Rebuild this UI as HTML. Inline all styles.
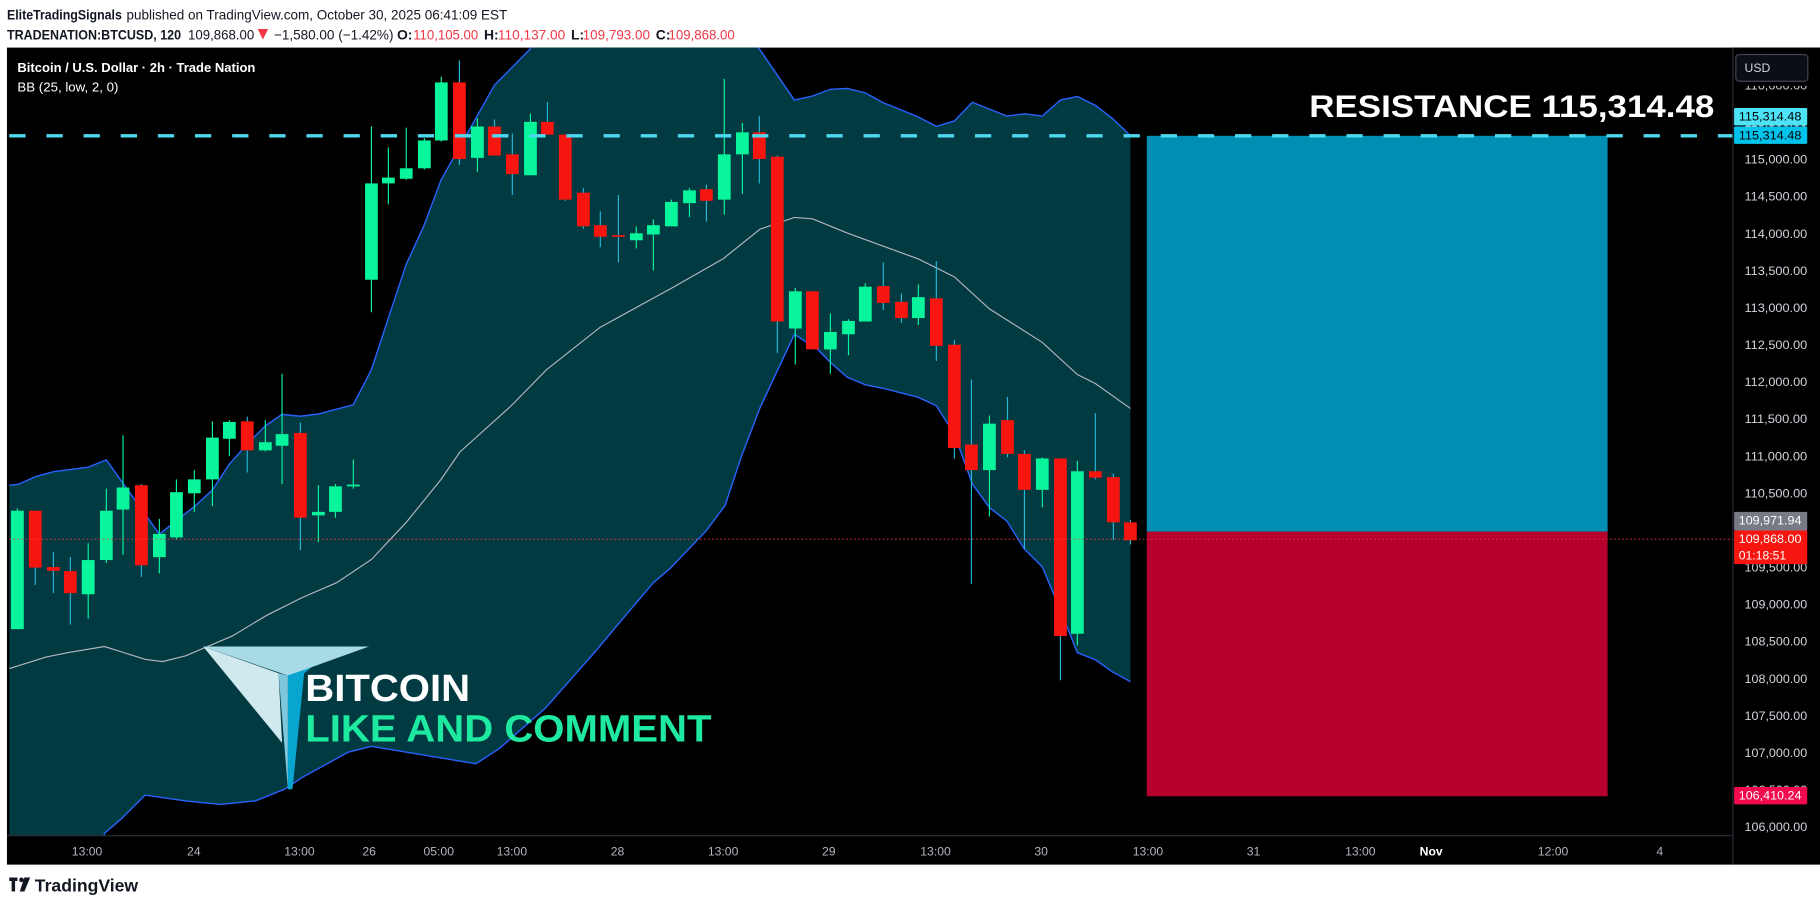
<!DOCTYPE html>
<html><head><meta charset="utf-8">
<style>
html,body{margin:0;padding:0;background:#fff;}
svg{display:block;}
text{font-family:"Liberation Sans",sans-serif;}
</style></head>
<body>
<svg id="s" width="1820" height="907" viewBox="0 0 1568 781.4" preserveAspectRatio="none" xmlns="http://www.w3.org/2000/svg">
<rect x="0" y="0" width="1568" height="781.4" fill="#fff"/>
<text x="6" y="17" font-size="12" font-weight="bold" fill="#131722" textLength="99" lengthAdjust="spacingAndGlyphs">EliteTradingSignals</text>
<text x="109" y="17" font-size="12" fill="#131722" textLength="328" lengthAdjust="spacingAndGlyphs">published on TradingView.com, October 30, 2025 06:41:09 EST</text>
<text x="6" y="34" font-size="12" font-weight="bold" fill="#131722" textLength="150" lengthAdjust="spacingAndGlyphs">TRADENATION:BTCUSD, 120</text>
<text x="162" y="34" font-size="12" fill="#131722" textLength="57" lengthAdjust="spacingAndGlyphs">109,868.00</text>
<polygon points="222,25 231,25 226.5,34" fill="#f23645"/>
<text x="236" y="34" font-size="12" fill="#131722" textLength="103" lengthAdjust="spacingAndGlyphs">−1,580.00 (−1.42%)</text>
<text x="342" y="34" font-size="12" font-weight="bold" fill="#131722">O:</text>
<text x="356" y="34" font-size="12" fill="#f23645" textLength="56" lengthAdjust="spacingAndGlyphs">110,105.00</text>
<text x="417" y="34" font-size="12" font-weight="bold" fill="#131722">H:</text>
<text x="429" y="34" font-size="12" fill="#f23645" textLength="58" lengthAdjust="spacingAndGlyphs">110,137.00</text>
<text x="492" y="34" font-size="12" font-weight="bold" fill="#131722">L:</text>
<text x="502" y="34" font-size="12" fill="#f23645" textLength="58" lengthAdjust="spacingAndGlyphs">109,793.00</text>
<text x="565" y="34" font-size="12" font-weight="bold" fill="#131722">C:</text>
<text x="576" y="34" font-size="12" fill="#f23645" textLength="57" lengthAdjust="spacingAndGlyphs">109,868.00</text>

<rect x="6" y="41" width="1562" height="704" fill="#000"/>
<defs><clipPath id="cp"><rect x="6" y="41" width="1487" height="679"/></clipPath></defs>
<g clip-path="url(#cp)" id="plot"></g>
<line x1="1493" y1="41" x2="1493" y2="745" stroke="#2a2e39" stroke-width="1"/>
<line x1="6" y1="720" x2="1493" y2="720" stroke="#2a2e39" stroke-width="1"/>
<g id="axis"></g>
<g id="time"></g>

<rect x="0" y="745" width="1568" height="37" fill="#fff"/>
<g transform="translate(8,756)">
<rect x="0" y="0" width="7" height="3" fill="#131722"/>
<rect x="2" y="0" width="3" height="12" fill="#131722"/>
<circle cx="10.5" cy="2" r="2" fill="#131722"/>
<polygon points="13,0 18,0 13,12 9,12" fill="#131722"/>
</g>
<text x="30" y="768" font-size="15" font-weight="bold" fill="#131722" textLength="89" lengthAdjust="spacingAndGlyphs">TradingView</text>
</svg>
<script>
const NS="http://www.w3.org/2000/svg";
function el(p,t,a,txt){const e=document.createElementNS(NS,t);for(const k in a)e.setAttribute(k,a[k]);if(txt!==undefined)e.textContent=txt;p.appendChild(e);return e;}
const plot=document.getElementById('plot');
const up=[[8,418],[15.8,417.3],[30.4,410.7],[46,406.4],[76,402.5],[91.6,396.2],[137.3,460.2],[152,448.6],[167.4,436.4],[183,422.2],[197.6,399.8],[213,382.7],[228.6,366.8],[243,357],[258.8,358.6],[274.3,356.6],[304.4,348.7],[320,318.4],[334.6,273.9],[350,227.7],[365,195],[380,155],[426,73.4],[456,43],[470,25],[640,25],[654.8,43],[684.4,86.2],[700,82.7],[715.4,76.9],[730,76.2],[745.5,80],[761,88.5],[791.2,100.8],[806.7,108.9],[822.2,104.2],[837.7,88.1],[867.3,100],[882.6,98.1],[898,100],[913.6,86.2],[928.2,83.1],[943.7,90.8],[958.4,102],[973.9,116.9]];
const lo=[[8,730],[88,730],[90,718],[105,705],[125,685],[160,690],[190,693],[220,690],[245,680],[260,670],[300,648],[320,643],[410,658],[430,645],[470,610],[514,560],[531.3,539.3],[562.9,502],[577.3,489.8],[608.9,456.8],[624.7,435.4],[639,392.6],[654.8,351.3],[684.4,288],[705,301.5],[715.4,312.3],[730,325],[745.5,331.5],[761,334.6],[791.2,342.3],[806.7,349.6],[822.2,373.8],[837.7,416.9],[852.4,437.3],[867.3,448.8],[882.6,473],[898,488.4],[913.6,525.8],[928.2,562.3],[943.7,568.4],[958.4,578.8],[973.9,587.3]];
const mid=[[8,576],[40,566],[60,562],[90,557],[125,568],[140,570],[160,565],[200,548],[230,530],[260,515],[290,502],[320,482],[350,450],[380,413],[396.3,389.3],[440,350],[471,318.4],[517,282],[577.3,249],[623.2,222.8],[654.8,197.4],[684.4,187.3],[700,188.5],[730,200.8],[791.2,223.1],[822.2,238.5],[852.4,266.1],[898,295],[928.2,322.7],[943.7,330.4],[973.9,351.9]];
const pts=a=>a.map(p=>p.join(',')).join(' ');
el(plot,'polygon',{points:pts(up)+' '+pts(lo.slice().reverse()),fill:'#023a42'});
el(plot,'polyline',{points:pts(up),fill:'none',stroke:'#2962ff','stroke-width':1.2});
el(plot,'polyline',{points:pts(lo),fill:'none',stroke:'#2962ff','stroke-width':1.2});
el(plot,'polyline',{points:pts(mid),fill:'none',stroke:'#b2b5be','stroke-width':1});
el(plot,'rect',{x:988,y:117,width:397,height:341,fill:'#008fb3'});
el(plot,'rect',{x:988,y:458,width:397,height:228,fill:'#b5002e'});
el(plot,'polygon',{points:'175,557 318,557 268,575 262,580 248,582',fill:'#a8dbe6'});
el(plot,'polygon',{points:'175,557 240,580 243,640',fill:'#cfe9ef'});
el(plot,'polygon',{points:'248,582 268,575 262,580 252,680 248,680',fill:'#08a5d0'});
el(plot,'polygon',{points:'240,580 248,582 248,680',fill:'#7fc7dc'});
el(plot,'text',{x:263,y:604,'font-size':33,'font-weight':'bold',fill:'#fff',textLength:142,lengthAdjust:'spacingAndGlyphs'},'BITCOIN');
el(plot,'text',{x:263,y:639,'font-size':33,'font-weight':'bold',fill:'#1de9a0',textLength:350,lengthAdjust:'spacingAndGlyphs'},'LIKE AND COMMENT');
const C=[[15,440,542,438,542,1],[30.4,440,489,440,504,0],[46,488.5,491.8,475.6,511,0],[60.6,492,511,480,538,0],[76,482.5,512,468,533,1],[91.6,440,482.5,421,485,1],[106,420,439,375,478,1],[121.8,418,487,417,497,0],[137.3,460,480,447,494,1],[152,424,463,413,465,1],[167.4,413,425,405,441,1],[183,377,413,363,436,1],[197.6,363.5,378,362,393,1],[213,363,388,359,407,0],[228.6,381,388,362,389,1],[243,374,384,322,417,1],[258.8,373,446,364,474,0],[274.3,441,444,418,467,1],[289,419,441,417,446,1],[304.4,417.5,419,396,421,1],[320,158,241,109,269,1],[334.6,153,158,127,176,1],[350,145,154,110,155,1],[365.6,121,145,119,146,1],[380.2,71,121,66,122,1],[395.8,71,137,52,142,0],[411.3,109,136,102,148,1],[426,109,134,103,134,0],[441.4,133,150,115,168,0],[457,105,151,98,151,1],[471.6,105,116,88,116,0],[487,116,172,116,173,0],[502.6,166,195,162,197,0],[517.2,194,204,182,213,0],[532.8,202.5,204,168,226,0],[548.2,201,207,195,214,1],[562.9,194,202,189,233,1],[578.4,174,195,172,195,1],[594,164,175,162,187,1],[608.6,163,173,159,191,0],[624,133,172,68,185,1],[639.6,114,133,106,167,1],[654.2,114,137,100,158,0],[669.7,135,277,134,304,0],[685.2,251,283,248,314,1],[699.9,251,301,251,301,0],[715.4,286,301,270,322,1],[731,276.5,288,275,306,1],[745.5,247,277,244,277,1],[761,246.5,261,226,267,0],[776.6,260,274,253,278,0],[791.2,256,274,245,280,1],[806.7,257,298,225,311,0],[822.2,297,386,293,395,0],[836.9,383,405,327,503,0],[852.4,365,405,358,445,1],[868,362,391,342,394,0],[882.6,391,422,388,473,0],[898,395,422,394,437,1],[913.6,395,548,395,586,0],[928.2,406,546,397,556,1],[943.7,406,411.5,356,413,0],[959.2,411,450,408,465,0],[973.9,450,465.5,448,469,0]];
for(const c of C){const g=c[5];const col=g?'#08f59b':'#f7150f';
el(plot,'line',{x1:c[0],x2:c[0],y1:c[3],y2:c[4],stroke:g?'#08f59b':'#22b8d6','stroke-width':1});
el(plot,'rect',{x:c[0]-5.5,y:c[1],width:11,height:Math.max(1.5,c[2]-c[1]),fill:col});}
el(plot,'line',{x1:8,x2:1493,y1:117,y2:117,stroke:'#4dd9ef','stroke-width':3,'stroke-dasharray':'14 18'});
el(plot,'line',{x1:8,x2:1493,y1:464.5,y2:464.5,stroke:'#f23645','stroke-width':0.7,'stroke-dasharray':'1.5 2'});
el(plot,'text',{x:1128,y:101,'font-size':27,'font-weight':'bold',fill:'#fff',textLength:349,lengthAdjust:'spacingAndGlyphs'},'RESISTANCE  115,314.48');
const ax=document.getElementById('axis');
const Y=p=>137+(115000-p)*0.06389;
for(let p=106000;p<=116000;p+=500){
  el(ax,'text',{x:1503,y:Y(p)+4,'font-size':10.5,fill:'#d1d4dc',textLength:54,lengthAdjust:'spacingAndGlyphs'},p.toLocaleString('en-US')+'.00');
}
el(ax,'rect',{x:1494,y:41,width:74,height:33,fill:'#000'});
el(ax,'rect',{x:1495.5,y:47,width:62,height:23,rx:3,fill:'#0c0e15',stroke:'#434651','stroke-width':1});
el(ax,'text',{x:1503,y:62,'font-size':10.5,fill:'#d1d4dc'},'USD');
function lab(y,h,bg,fg,t1,t2){el(ax,'rect',{x:1494,y:y,width:63,height:h,fill:bg,rx:1});
el(ax,'text',{x:1498,y:y+11,'font-size':10.5,fill:fg,textLength:54,lengthAdjust:'spacingAndGlyphs'},t1);
if(t2)el(ax,'text',{x:1498,y:y+25,'font-size':10.5,fill:fg},t2);}
lab(93,15,'#4de3f7','#000','115,314.48');
lab(109,15,'#00c3ec','#000','115,314.48');
lab(441,16,'#787b86','#fff','109,971.94');
lab(457,29,'#f7150f','#fff','109,868.00','01:18:51');
lab(678,15,'#f20a4c','#fff','106,410.24');
const tm=document.getElementById('time');
[['13:00',75],['24',167],['13:00',258],['26',318],['05:00',378],['13:00',441],['28',532],['13:00',623],['29',714],['13:00',806],['30',897],['13:00',989],['31',1080],['13:00',1172],['Nov',1233],['12:00',1338],['4',1430]].forEach(t=>{
 el(tm,'text',{x:t[1],y:737,'font-size':10.5,fill:t[0]=='Nov'?'#fff':'#b2b5be','text-anchor':'middle','font-weight':t[0]=='Nov'?'bold':'normal'},t[0]);});
el(plot,'text',{x:15,y:62,'font-size':11,'font-weight':'bold',fill:'#fff',textLength:205,lengthAdjust:'spacingAndGlyphs'},'Bitcoin / U.S. Dollar · 2h · Trade Nation');
el(plot,'text',{x:15,y:79,'font-size':11,fill:'#fff',textLength:87,lengthAdjust:'spacingAndGlyphs'},'BB (25, low, 2, 0)');
</script>
</body></html>
